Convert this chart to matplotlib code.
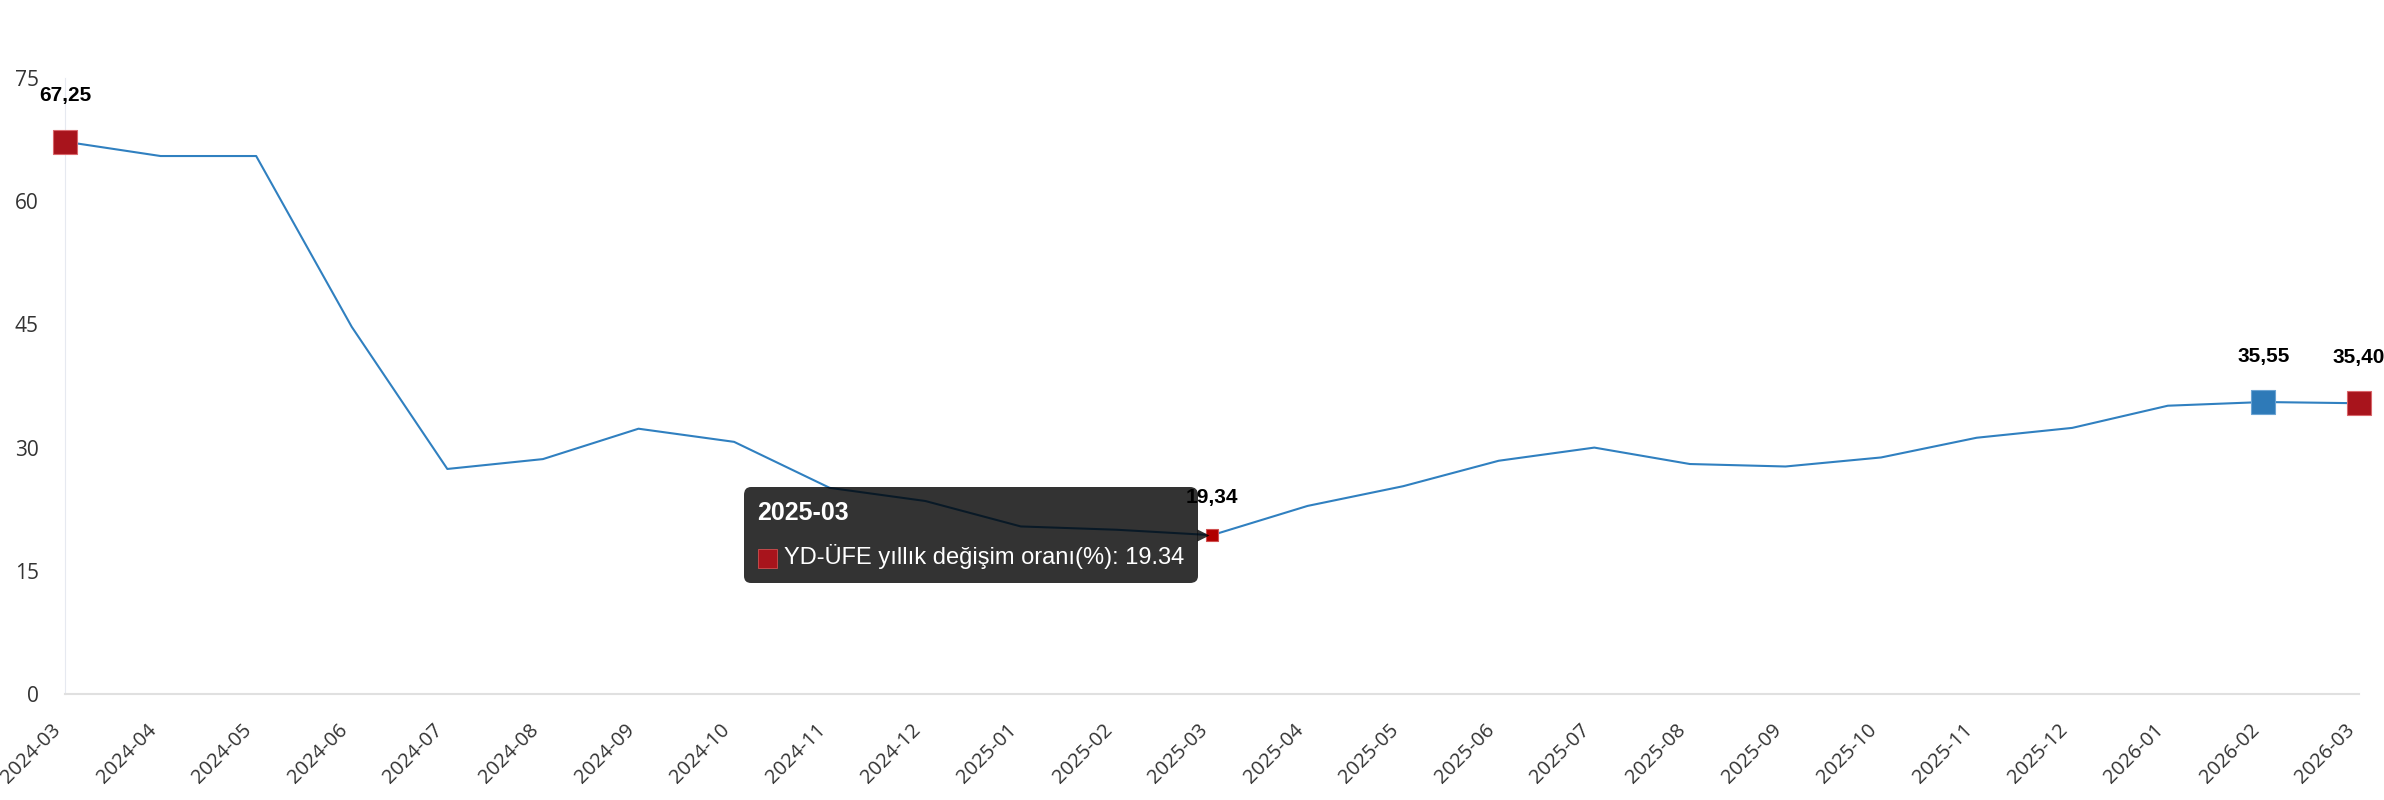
import matplotlib
matplotlib.use('Agg')
import matplotlib.pyplot as plt
from matplotlib.offsetbox import TextArea, VPacker, HPacker, DrawingArea, AnnotationBbox
from matplotlib.patches import Rectangle
from matplotlib.transforms import offset_copy

# data
months = ['2024-03', '2024-04', '2024-05', '2024-06', '2024-07', '2024-08', '2024-09',
          '2024-10', '2024-11', '2024-12', '2025-01', '2025-02', '2025-03', '2025-04',
          '2025-05', '2025-06', '2025-07', '2025-08', '2025-09', '2025-10', '2025-11',
          '2025-12', '2026-01', '2026-02', '2026-03']
values = [67.25, 65.5, 65.5, 44.7, 27.4, 28.6, 32.3, 30.7, 25.1, 23.5, 20.4, 20.0,
          19.34, 22.9, 25.3, 28.4, 30.0, 28.0, 27.7, 28.8, 31.2, 32.4, 35.1, 35.55, 35.40]
labelled = [0, 12, 23, 24]
tooltip_idx = 12
series_name = 'YD-ÜFE yıllık değişim oranı(%)'

RED = '#a8141c'
DARKRED = '#b00000'
BLUE = '#2e7ab8'
LINE = '#3080c0'
marker_col = {0: RED, 12: DARKRED, 23: BLUE, 24: RED}
marker_edge = {0: '#d9666b', 12: '#d05050', 23: '#6aa3d3', 24: '#d9666b'}

W, H = 2384, 800
fig = plt.figure(figsize=(W / 100, H / 100), dpi=100)
ax = fig.add_axes([65 / W, 106 / H, 2294 / W, 616 / H])

x = list(range(len(months)))
ax.plot(x, values, color=LINE, lw=1.5, zorder=2, clip_on=False)

for i in labelled:
    big = i != tooltip_idx
    ax.plot(x[i], values[i], marker='s', ms=17 if big else 9, color=marker_col[i],
            mec=marker_edge[i], mew=0.8, zorder=4, clip_on=False)
    ax.annotate(f'{values[i]:.2f}'.replace('.', ','), (x[i], values[i]),
                xytext=(0, 33 if big else 27), textcoords='offset points',
                ha='center', va='center', fontsize=15, fontweight='bold',
                family='Liberation Sans', color='black', zorder=6,
                annotation_clip=False)

# tooltip
header = TextArea('2025-03', textprops=dict(color='white', fontsize=18, fontweight='bold',
                                             family='Liberation Sans'))
sq = DrawingArea(14, 14, 0, 0)
sq.add_artist(Rectangle((0, -1), 14, 14, fc=RED, ec='#d05050', lw=0.6))
body = TextArea(f'{series_name}: {values[tooltip_idx]:.2f}',
                textprops=dict(color='white', fontsize=17, family='Liberation Sans'))
row = HPacker(children=[sq, body], align='center', pad=0, sep=5)
content = VPacker(children=[header, row], align='left', pad=10, sep=14)
ab = AnnotationBbox(content, (x[tooltip_idx], values[tooltip_idx]),
                    xybox=(-10, 0), boxcoords='offset points', box_alignment=(1, 0.5),
                    frameon=True, pad=0,
                    bboxprops=dict(boxstyle='round,pad=0,rounding_size=0.55',
                                   fc='black', ec='none', alpha=0.8),
                    zorder=5, annotation_clip=False)
ax.add_artist(ab)
ptr = offset_copy(ax.transData, fig=fig, x=-9, y=0, units='dots')
ax.plot(x[tooltip_idx], values[tooltip_idx], marker='>', ms=8, color='black', alpha=0.8,
        mec='none', transform=ptr, zorder=5, clip_on=False)

ax.set_xlim(0, len(months) - 1)
ax.set_ylim(0, 75)
ax.set_yticks(range(0, 76, 15))
ax.set_xticks(x)
ax.set_xticklabels(months, rotation=45, ha='right', va='top')
ax.tick_params(length=0, colors='#333333')
ax.tick_params(axis='y', pad=19, labelsize=15)
ax.tick_params(axis='x', pad=19, labelsize=14.5)
for lab in ax.get_xticklabels() + ax.get_yticklabels():
    lab.set_family('Open Sans')

for s in ['top', 'right']:
    ax.spines[s].set_visible(False)
ax.spines['left'].set_color('#e6e9f0')
ax.spines['left'].set_linewidth(0.8)
ax.spines['bottom'].set_color('#e0e0e0')
ax.spines['bottom'].set_linewidth(1.5)

fig.savefig('out.png', dpi=100)
